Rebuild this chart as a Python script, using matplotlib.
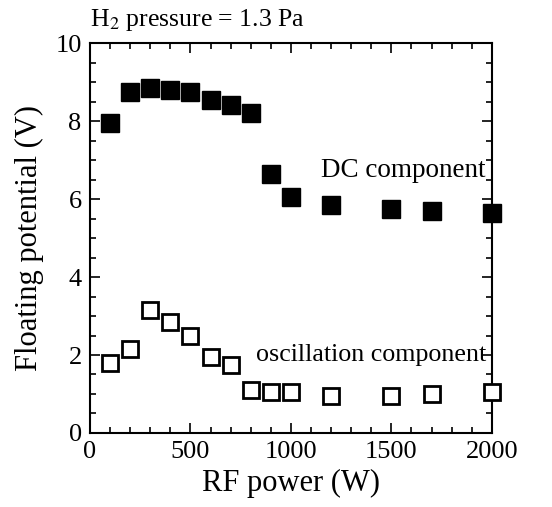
import numpy as np
import matplotlib.pyplot as plt
from matplotlib.ticker import MultipleLocator

rf_power = [100, 200, 300, 400, 500, 600, 700, 800, 900, 1000, 1200, 1500, 1700, 2000]
dc_comp = [7.95, 8.75, 8.85, 8.8, 8.75, 8.55, 8.4, 8.2, 6.65, 6.05, 5.85, 5.75, 5.7, 5.65]
osc_comp = [1.8, 2.15, 3.15, 2.85, 2.5, 1.95, 1.75, 1.1, 1.05, 1.05, 0.95, 0.95, 1.0, 1.05]

plt.rcParams['font.family'] = ['Liberation Serif', 'DejaVu Serif']
plt.rcParams['mathtext.fontset'] = 'stix'

fig = plt.figure(figsize=(5.52, 5.07), dpi=100)
ax = fig.add_axes([0.163, 0.146, 0.728, 0.769])

ax.plot(rf_power, dc_comp, 's', ms=13, color='black', mec='black', clip_on=False, zorder=3)
ax.plot(rf_power, osc_comp, 's', ms=11.5, mfc='white', mec='black', mew=2, clip_on=False, zorder=3)

ax.set_xlim(0, 2000)
ax.set_ylim(0, 10)
ax.xaxis.set_major_locator(MultipleLocator(500))
ax.xaxis.set_minor_locator(MultipleLocator(100))
ax.yaxis.set_major_locator(MultipleLocator(2))
ax.yaxis.set_minor_locator(MultipleLocator(0.5))
ax.tick_params(which='both', direction='in', top=True, right=True, labelsize=19, width=1.2)
ax.tick_params(which='major', length=7, pad=6)
ax.tick_params(which='minor', length=4)
for s in ax.spines.values():
    s.set_linewidth(1.5)

ax.set_xlabel('RF power (W)', fontsize=22, labelpad=4)
ax.set_ylabel('Floating potential (V)', fontsize=22, labelpad=8)

ax.text(0.0, 1.025, 'H$_2$ pressure = 1.3 Pa', transform=ax.transAxes, fontsize=18.5, ha='left', va='bottom')
ax.text(0.985, 0.674, 'DC component', transform=ax.transAxes, fontsize=19.5, ha='right', va='center')
ax.text(0.985, 0.20, 'oscillation component', transform=ax.transAxes, fontsize=18.7, ha='right', va='center')

fig.savefig('out.png', dpi=100)
